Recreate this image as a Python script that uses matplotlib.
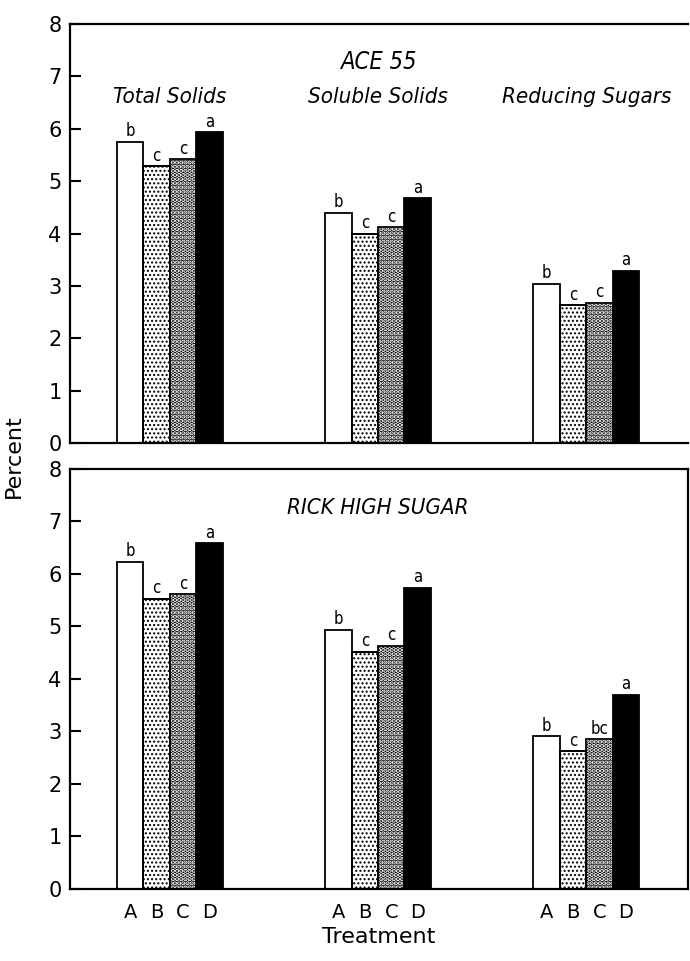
import numpy as np
import matplotlib
matplotlib.use("Agg")
import matplotlib.pyplot as plt

# data
measures = ["Total Solids", "Soluble Solids", "Reducing Sugars"]
treatments = ["A", "B", "C", "D"]

ace55_values = [
    [5.75, 5.29, 5.42, 5.94],
    [4.40, 4.00, 4.12, 4.67],
    [3.04, 2.63, 2.68, 3.29],
]
ace55_letters = [
    ["b", "c", "c", "a"],
    ["b", "c", "c", "a"],
    ["b", "c", "c", "a"],
]

rick_values = [
    [6.23, 5.53, 5.62, 6.59],
    [4.94, 4.52, 4.63, 5.74],
    [2.91, 2.62, 2.85, 3.70],
]
rick_letters = [
    ["b", "c", "c", "a"],
    ["b", "c", "c", "a"],
    ["b", "c", "bc", "a"],
]

plt.rcParams['font.family'] = 'DejaVu Sans'

faces = ["white", "white", "black", "black"]
hatches = [None, "....", "....", None]
hatch_cols = ["black", "black", "white", "black"]
hatch_lws = [1.0, 1.0, 2.2, 1.0]
width = 0.127

fig = plt.figure(figsize=(6.9, 9.61), dpi=100)
ax_top = fig.add_axes([0.1014, 0.539, 0.896, 0.436])
ax_bot = fig.add_axes([0.1014, 0.075, 0.896, 0.437])


def draw_panel(ax, values, letters):
    groups = np.arange(len(measures))
    for i in range(len(treatments)):
        xs = groups + (i - 1.5) * width
        vals = [v[i] for v in values]
        bars = ax.bar(xs, vals, width=width, color=faces[i], edgecolor="black",
                      linewidth=1.3, zorder=2)
        if hatches[i]:
            for b in bars:
                b.set_hatch(hatches[i])
                b.set_edgecolor(hatch_cols[i])
                b.set_hatch_linewidth(hatch_lws[i])
            # outline on top of hatch
            ax.bar(xs, vals, width=width, fill=False, edgecolor="black",
                   linewidth=1.3, zorder=3)
        for x, v, g in zip(xs, vals, groups):
            ax.annotate(letters[g][i], (x, v), xytext=(0, 1), textcoords="offset points",
                        ha="center", va="bottom", fontsize=12, fontstretch="condensed")
    ax.set_xlim(-0.48, 2.49)
    ax.set_ylim(0, 8)
    ax.set_yticks(range(0, 9))
    ax.tick_params(axis="y", direction="in", length=8, width=1.5, labelsize=15, pad=6)
    for s in ax.spines.values():
        s.set_linewidth(1.6)


draw_panel(ax_top, ace55_values, ace55_letters)
draw_panel(ax_bot, rick_values, rick_letters)

ax_top.spines["right"].set_visible(False)
ax_top.set_xticks([])

ticks = []
labels = []
for g in range(len(measures)):
    for i, t in enumerate(treatments):
        ticks.append(g + (i - 1.5) * width)
        labels.append(t)
ax_bot.set_xticks(ticks)
ax_bot.set_xticklabels(labels)
ax_bot.tick_params(axis="x", length=0, labelsize=14, pad=10)
ax_bot.set_xlabel("Treatment", fontsize=16, labelpad=4)

# panel titles
ax_top.text(1.0, 7.28, "ACE 55", ha="center", va="center", fontsize=17, style="italic",
            fontstretch="condensed")
for g, m in enumerate(measures):
    ax_top.text(g, 6.6, m, ha="center", va="center", fontsize=16, style="italic",
                fontstretch="condensed")
ax_bot.text(1.0, 7.25, "RICK HIGH SUGAR", ha="center", va="center", fontsize=16,
            style="italic", fontstretch="condensed")

fig.text(0.02, 0.525, "Percent", rotation=90, ha="center", va="center", fontsize=16)

fig.savefig("out.png", dpi=100)
